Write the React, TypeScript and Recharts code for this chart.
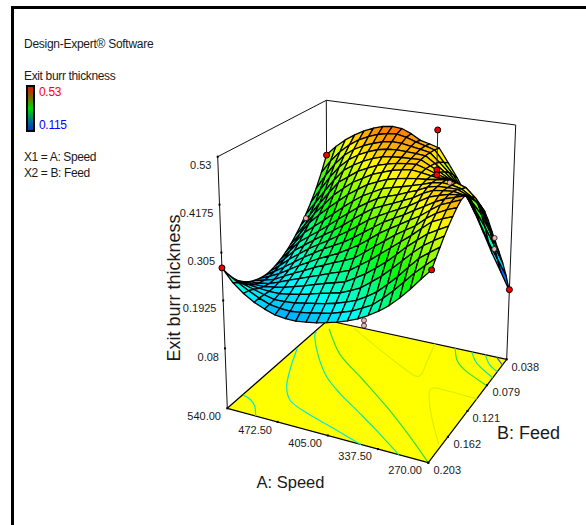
import React from 'react';
import { ScatterChart, Scatter, XAxis, YAxis } from 'recharts';

const W = 586;
const H = 525;
const FONT = '"Liberation Sans", Arial, sans-serif';

// Exit burr thickness (x1000); rows run from feed 0.203 to 0.038, columns from speed 540 to 270
const burr00 = [269,240,220,205,195,187,184,184,187,191,197,204,212,222,235,250,268,290,315,342,368];
const burr01 = [247,231,218,206,197,193,192,195,199,204,209,217,225,237,250,270,292,317,342,364,385];
const burr02 = [228,219,212,205,199,200,202,207,212,217,223,231,240,254,270,292,315,341,366,384,401];
const burr03 = [213,209,206,204,204,208,213,219,226,232,238,248,260,278,297,319,342,365,386,402,417];
const burr04 = [202,201,201,205,210,217,224,232,240,247,254,268,283,301,320,342,365,385,404,418,431];
const burr05 = [193,195,199,208,218,227,236,245,255,263,272,289,306,325,344,363,382,403,423,434,444];
const burr06 = [187,193,200,213,226,237,249,260,271,281,292,310,329,347,365,381,396,417,434,446,456];
const burr07 = [183,193,205,220,235,248,262,273,285,299,314,332,351,366,381,396,410,428,445,455,465];
const burr08 = [181,196,212,229,246,261,276,289,302,318,335,352,369,382,395,410,424,438,450,458,466];
const burr09 = [182,201,222,240,258,273,288,304,320,338,356,370,383,395,407,422,437,445,452,455,455];
const burr10 = [186,209,234,252,270,287,303,321,340,358,375,386,396,407,418,433,444,448,450,446,440];
const burr11 = [192,219,247,265,283,302,322,341,360,376,391,400,408,418,427,439,445,446,446,436,423];
const burr12 = [201,231,261,281,301,322,343,362,380,393,406,413,419,426,433,441,445,443,438,423,405];
const burr13 = [212,244,277,301,324,345,366,383,399,410,420,426,431,434,436,440,443,440,432,411,382];
const burr14 = [226,258,291,319,347,368,388,402,416,425,434,439,443,440,436,434,432,425,412,385,350];
const burr15 = [243,275,308,340,371,389,407,419,430,437,443,446,448,441,433,426,418,406,390,355,313];
const burr16 = [262,296,331,364,393,410,424,435,443,447,449,450,451,439,427,414,399,385,366,324,277];
const burr17 = [285,322,358,389,412,428,440,449,454,456,455,454,452,436,419,399,378,354,328,287,242];
const burr18 = [312,350,384,411,430,443,453,461,465,464,460,456,451,430,408,381,354,321,286,246,205];
const burr19 = [345,380,408,430,447,459,468,474,476,471,463,456,449,421,393,359,325,282,237,200,162];
const burr20 = [384,410,431,448,462,473,481,484,482,472,458,452,445,410,375,334,292,245,197,155,112];
const burrRows = [burr00,burr01,burr02,burr03,burr04,burr05,burr06,burr07,burr08,burr09,burr10,burr11,burr12,burr13,burr14,burr15,burr16,burr17,burr18,burr19,burr20];

const zTicks = [0.53, 0.4175, 0.305, 0.1925, 0.08];
const zTickLabels = ['0.53', '0.4175', '0.305', '0.1925', '0.08'];
const speedLabels = ['540.00', '472.50', '405.00', '337.50', '270.00'];
const feedLabels = ['0.203', '0.162', '0.121', '0.079', '0.038'];

// design points: [speed fraction, feed fraction, response]
const redPoints = [[0,0,0.269],[0,1,0.383],[1,0,0.368],[1,1,0.115],[0.59,1,0.491],[0.59,1,0.388],[0.59,1,0.375]];
const pinkPoints = [[0,0.8,0.252],[0.66,1,0.36],[0.91,1,0.238],[0.91,1,0.21],[0.68,0,0.222],[0.68,0,0.21]];

// floor contours as [speed fraction, feed fraction]
const contourA = [[0.003,0.153],[0.046,0.134],[0.095,0.085],[0.141,0]];
const contourB = [[0.007,0.686],[0.065,0.513],[0.136,0.33],[0.216,0.209],[0.343,0.136],[0.49,0.075],[0.664,0]];
const contourC = [[0.008,0.876],[0.024,0.829],[0.129,0.667],[0.259,0.499],[0.385,0.383],[0.547,0.256],[0.689,0.141],[0.853,0]];
const contourD = [[0.049,0.928],[0.218,0.722],[0.427,0.548],[0.634,0.369],[0.84,0.17],[1,0]];
const contourE = [[0.16,0.98],[0.421,0.813],[0.625,0.693],[0.661,0.711],[0.642,0.806],[0.6,1]];
const contourF = [[1,0.617],[0.853,0.625],[0.766,0.621],[0.773,0.557],[0.862,0.381],[0.985,0.17]];
const contourG = [[0.712,1],[0.772,0.897],[0.85,0.828],[1,0.745]];
const contourH = [[0.805,1],[0.874,0.911],[1,0.82]];
const contourI = [[0.88,1],[0.938,0.924],[1,0.88]];
const contourJ = [[0.944,1],[1,0.945]];

const P00 = [227.3, 408.3], P10 = [428.3, 462.7], P11 = [506.7, 359.3], P01 = [327.4, 320.5];
const T00 = [217.7, 156.7], T10 = [432.9, 197], T11 = [515.7, 125], T01 = [326.3, 100.3];
const FLOOR_Z = -0.0606, TOP_Z = 0.53;

const bil = (a: number[], b: number[], c: number[], d: number[], u: number, v: number) => [0, 1].map(k =>
  (1 - u) * (1 - v) * a[k] + u * (1 - v) * b[k] + u * v * c[k] + (1 - u) * v * d[k]);
const project = (u: number, v: number, z: number) => {
  const f = bil(P00, P10, P11, P01, u, v);
  const t = bil(T00, T10, T11, T01, u, v);
  const h = (z - FLOOR_Z) / (TOP_Z - FLOOR_Z);
  return [f[0] + h * (t[0] - f[0]), f[1] + h * (t[1] - f[1])];
};
const onFloor = (u: number, v: number) => bil(P00, P10, P11, P01, u, v);

const mix = (a: number[], b: number[], t: number) => a.map((x, i) => Math.round(x + (b[i] - x) * t));
const rainbow = [[0,0,255],[0,255,255],[0,255,0],[255,255,0],[255,0,0]];
const heat = (z: number) => {
  const t = Math.max(0, Math.min(0.9999, (z - 0.115) / (0.53 - 0.115))) * 4;
  const k = Math.floor(t);
  const c = mix(rainbow[k], rainbow[k + 1], t - k);
  return `rgb(${c[0]},${c[1]},${c[2]})`;
};

type Mark = { sx: number; sy: number; pts: number[][]; fill?: string; stroke?: string; sw?: number; curve?: boolean };
const mark = (pts: number[][], o: Partial<Mark>): Mark => ({ sx: pts[0][0], sy: pts[0][1], pts, ...o });

const curvePath = (q: number[][]) => {
  let s = `M${q[0][0]},${q[0][1]}`;
  for (let i = 0; i < q.length - 1; i++) {
    const a = q[Math.max(0, i - 1)], b = q[i], c = q[i + 1], d = q[Math.min(q.length - 1, i + 2)];
    s += `C${b[0] + (c[0] - a[0]) / 6},${b[1] + (c[1] - a[1]) / 6} ${c[0] - (d[0] - b[0]) / 6},${c[1] - (d[1] - b[1]) / 6} ${c[0]},${c[1]}`;
  }
  return s;
};

const PolyShape = (p: any) => {
  const d = p.payload as Mark;
  const ox = p.cx - d.sx, oy = p.cy - d.sy;
  const q = d.pts.map(r => [r[0] + ox, r[1] + oy]);
  if (d.curve) return <path d={curvePath(q)} fill="none" stroke={d.stroke} strokeWidth={d.sw} />;
  const s = q.map(r => `${r[0]},${r[1]}`).join(' ');
  return d.fill
    ? <polygon points={s} fill={d.fill} stroke={d.stroke || 'none'} strokeWidth={d.sw || 0} strokeLinejoin="round" />
    : <polyline points={s} fill="none" stroke={d.stroke} strokeWidth={d.sw} />;
};

const n = burrRows.length - 1;
const cells: (Mark & { depth: number })[] = [];
for (let j = 0; j < n; j++) for (let i = 0; i < n; i++) {
  const zz = [burrRows[j][i], burrRows[j][i + 1], burrRows[j + 1][i + 1], burrRows[j + 1][i]].map(q => q / 1000);
  const uu = [i / n, (i + 1) / n, (i + 1) / n, i / n], vv = [j / n, j / n, (j + 1) / n, (j + 1) / n];
  const pts = zz.map((z, k) => project(uu[k], vv[k], z));
  cells.push({ ...mark(pts, { fill: heat((zz[0] + zz[1] + zz[2] + zz[3]) / 4), stroke: '#000', sw: 1.3 }), depth: onFloor((i + 0.5) / n, (j + 0.5) / n)[1] });
}
cells.sort((a, b) => a.depth - b.depth);

const frame = [mark([[12.5, 525], [12.5, 7.5], [586, 7.5]], { stroke: '#000', sw: 3 })];
const box = [
  mark([P00, T00, T01, T11, P11], { stroke: '#111', sw: 1 }),
  mark([T01, P01], { stroke: '#111', sw: 1 }),
];
const floor = [mark([P00, P10, P11, P01], { fill: '#ffff00', stroke: '#000', sw: 1.2 })];
const contourStyles: [number[][], string][] = [
  [contourA, '#00e8d8'], [contourB, '#00e8e0'], [contourC, '#10e8a0'], [contourD, '#30e040'],
  [contourE, '#d8f000'], [contourF, '#d8f000'], [contourG, '#30e040'], [contourH, '#10e8a0'],
  [contourI, '#00e0e8'], [contourJ, '#2060f0'],
];
const contourMarks = contourStyles.map(([c, col]) => mark(c.map(q => onFloor(q[0], q[1])), { stroke: col, sw: 1.2, curve: true }));

const stemMark = [mark([project(0.59, 1, 0.491), project(0.59, 1, 0.388)], { stroke: '#222', sw: 1 })];

const tickFrac = [0, 0.25, 0.5, 0.75, 1];
const tickDots = [
  ...zTicks.map(z => project(0, 0, z)),
  ...tickFrac.map(f => onFloor(f, 0)),
  ...tickFrac.map(f => onFloor(1, f)),
].map(q => ({ sx: q[0], sy: q[1] }));
const redData = redPoints.map(q => { const s = project(q[0], q[1], q[2]); return { sx: s[0], sy: s[1] }; });
const pinkData = pinkPoints.map(q => { const s = project(q[0], q[1], q[2]); return { sx: s[0], sy: s[1] }; });

type Txt = { sx: number; sy: number; t: string; size: number; anchor?: string; color?: string; rot?: number; ls?: number };
const zX = [211.5, 213.5, 215, 216.5, 219];
const zY = [165, 212.7, 260.7, 308, 356.7];
const spX = [221, 272, 322, 372, 422];
const spY = [416, 430, 443, 456, 470];
const feedX = [461, 481, 500, 520, 539];
const feedY = [470, 444, 417.7, 391.7, 366.7];
const texts: Txt[] = [
  { sx: 24, sy: 44, t: 'Design-Expert® Software', size: 12, ls: -0.27 },
  { sx: 24, sy: 76, t: 'Exit burr thickness', size: 12, ls: -0.35 },
  { sx: 39, sy: 92, t: '0.53', size: 12, color: '#ff0000', ls: -0.3 },
  { sx: 39, sy: 125, t: '0.115', size: 12, color: '#0000ff', ls: -0.3 },
  { sx: 24, sy: 157, t: 'X1 = A: Speed', size: 12, ls: -0.38 },
  { sx: 24, sy: 173, t: 'X2 = B: Feed', size: 12, ls: -0.38 },
  ...zTickLabels.map((t, i) => ({ sx: zX[i], sy: zY[i], t, size: 11, anchor: 'end' })),
  ...speedLabels.map((t, i) => ({ sx: spX[i], sy: spY[i], t, size: 11, anchor: 'end' })),
  ...feedLabels.map((t, i) => ({ sx: feedX[i], sy: feedY[i], t, size: 11, anchor: 'end' })),
  { sx: 174, sy: 288, t: 'Exit burr thickness', size: 18, anchor: 'middle', rot: -90 },
  { sx: 290.5, sy: 482, t: 'A: Speed', size: 16.5, anchor: 'middle' },
  { sx: 528.5, sy: 433, t: 'B: Feed', size: 18, anchor: 'middle' },
];

const TextShape = (p: any) => {
  const d = p.payload as Txt;
  return (
    <text x={p.cx} y={p.cy} fontFamily={FONT} fontSize={d.size} fill={d.color || '#1a1a1a'} textAnchor={(d.anchor || 'start') as any}
      letterSpacing={d.ls} dominantBaseline="central" transform={d.rot ? `rotate(${d.rot} ${p.cx} ${p.cy})` : undefined}>{d.t}</text>
  );
};
const Dot = (color: string, r: number, sw: number) => (p: any) => <circle cx={p.cx} cy={p.cy} r={r} fill={color} stroke="#000" strokeWidth={sw} />;
const TickDot = (p: any) => <rect x={p.cx - 1} y={p.cy - 1} width={2} height={2} fill="#000" />;
const LegendBar = (p: any) => (
  <g>
    <defs>
      <linearGradient id="burrGrad" x1="0" y1="0" x2="0" y2="1">
        <stop offset="0" stopColor="#e01000" />
        <stop offset="0.25" stopColor="#7a6a00" />
        <stop offset="0.5" stopColor="#00d800" />
        <stop offset="0.75" stopColor="#007a80" />
        <stop offset="1" stopColor="#0030c8" />
      </linearGradient>
    </defs>
    <rect x={p.cx} y={p.cy} width={7} height={45} fill="url(#burrGrad)" stroke="#000" strokeWidth={2} />
  </g>
);
const legendAnchor = [{ sx: 27, sy: 86 }];

const layer = (data: any[], shape: any, key: string) => (
  <Scatter key={key} data={data} shape={shape} isAnimationActive={false} />
);

export default function App() {
  return (
    <div style={{ position: 'absolute', left: 0, top: 0, width: W, height: H, background: '#fff' }}>
      <ScatterChart width={W} height={H} margin={{ top: 0, right: 0, bottom: 0, left: 0 }}>
        <XAxis type="number" dataKey="sx" domain={[0, W]} hide />
        <YAxis type="number" dataKey="sy" domain={[0, H]} reversed hide />
        {layer(frame, PolyShape, 'frame')}
        {layer(box, PolyShape, 'box')}
        {layer(floor, PolyShape, 'floor')}
        {layer(contourMarks, PolyShape, 'contours')}
        {layer(tickDots, TickDot, 'ticks')}
        {layer(cells, PolyShape, 'surface')}
        {layer(stemMark, PolyShape, 'stems')}
        {layer(pinkData, Dot('#f0b4b4', 2.5, 0.7), 'pink')}
        {layer(redData, Dot('#f00000', 3, 1), 'red')}
        {layer(legendAnchor, LegendBar, 'legend')}
        {layer(texts, TextShape, 'texts')}
      </ScatterChart>
    </div>
  );
}
